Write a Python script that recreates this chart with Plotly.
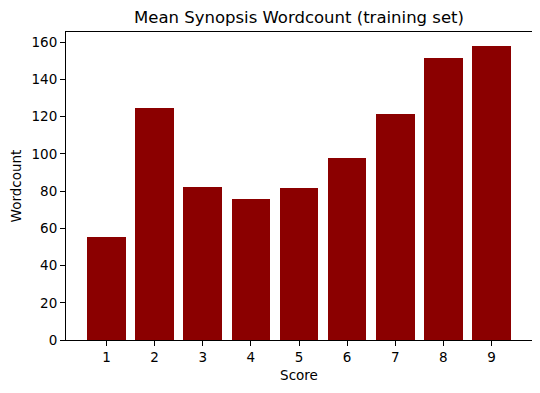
import plotly.graph_objects as go

scores = [1, 2, 3, 4, 5, 6, 7, 8, 9]
wordcounts = [55.3, 124.7, 82.2, 75.8, 81.7, 97.8, 121.4, 151.5, 158.0]
y_ticks = [0, 20, 40, 60, 80, 100, 120, 140, 160]

# page body keeps the browser's 8px margin, so the figure is made 8px smaller
W, H = 532, 385

fig = go.Figure()
fig.add_trace(go.Bar(x=scores, y=wordcounts, width=0.8,
                     marker=dict(color="#8b0000", line=dict(width=0))))

axis_style = dict(showline=True, linecolor="black", linewidth=1.1, mirror=True,
                  ticks="outside", ticklen=5, tickwidth=1.1, tickcolor="black",
                  showgrid=False, zeroline=False,
                  tickfont=dict(size=13.5, color="black"))

fig.update_layout(
    width=W, height=H,
    paper_bgcolor="white", plot_bgcolor="white",
    margin=dict(l=58, r=8, t=24, b=53, autoexpand=False),
    font=dict(family="DejaVu Sans", color="black"),
    title=dict(text="Mean Synopsis Wordcount (training set)", x=0.5, xref="paper",
               y=1 - 9 / H, yanchor="middle", font=dict(size=16.5)),
    bargap=0, showlegend=False,
)
fig.update_xaxes(range=[0.16, 9.84], tickvals=scores,
                 title=dict(text="Score", font=dict(size=13.5), standoff=6), **axis_style)
fig.update_yaxes(range=[0, 165.5], tickvals=y_ticks,
                 title=dict(text="Wordcount", font=dict(size=13.5), standoff=8), **axis_style)

fig.write_html("out.html")
